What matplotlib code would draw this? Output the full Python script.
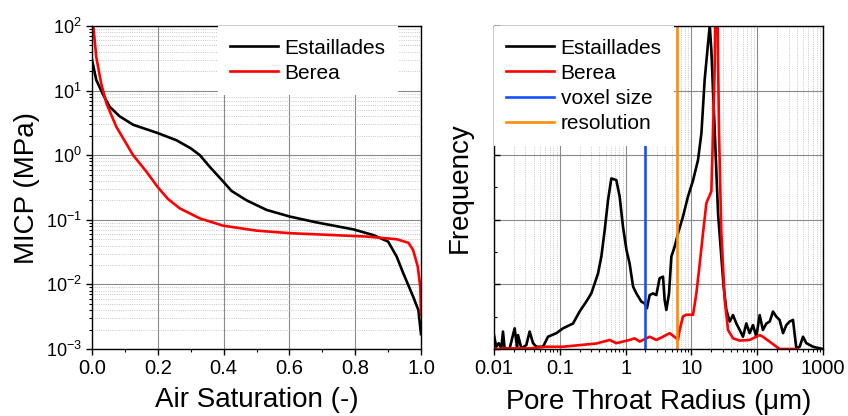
import numpy as np
import matplotlib
matplotlib.use("Agg")
import matplotlib.pyplot as plt
from matplotlib.ticker import LogLocator, MultipleLocator, FuncFormatter, NullFormatter, FixedLocator

plt.rcParams['font.family'] = ['Liberation Sans', 'DejaVu Sans']
plt.rcParams['mathtext.fontset'] = 'custom'
plt.rcParams['mathtext.rm'] = 'Liberation Sans'
plt.rcParams['mathtext.it'] = 'Liberation Sans:italic'

# ---------------- data: MICP curves ----------------
est_sat = [0.0, 0.013, 0.034, 0.054, 0.084, 0.125, 0.2, 0.257, 0.30, 0.328, 0.358,
           0.399, 0.424, 0.47, 0.531, 0.602, 0.683, 0.795, 0.855, 0.90, 0.926,
           0.946, 0.976, 0.992, 1.0]
est_micp = [30, 14.6, 8.6, 5.6, 4.0, 2.96, 2.2, 1.7, 1.28, 1.0, 0.66,
            0.39, 0.28, 0.2, 0.142, 0.112, 0.091, 0.071, 0.058, 0.046, 0.027,
            0.0149, 0.0065, 0.004, 0.0017]
ber_sat = [0.004, 0.013, 0.028, 0.044, 0.074, 0.125, 0.165, 0.2, 0.231, 0.267,
           0.328, 0.399, 0.5, 0.602, 0.734, 0.835, 0.926, 0.962, 0.976, 0.99,
           0.998, 1.0]
ber_micp = [100, 33, 12.9, 6.3, 2.75, 1.0, 0.56, 0.32, 0.21, 0.15,
            0.105, 0.081, 0.068, 0.062, 0.058, 0.055, 0.05, 0.044, 0.034, 0.019,
            0.009, 0.0034]

# ---------------- data: pore throat radius distributions ----------------
est_r = [0.0100, 0.0108, 0.0118, 0.0129, 0.0137, 0.0145, 0.0173, 0.0206, 0.0224,
         0.0232, 0.0260, 0.0310, 0.0348, 0.0392, 0.0440, 0.0556, 0.0662, 0.0886,
         0.112, 0.159, 0.200, 0.253, 0.301, 0.339, 0.381, 0.428, 0.481, 0.541,
         0.607, 0.723, 0.812, 0.912, 1.03, 1.15, 1.30, 1.46, 1.73, 1.95, 2.11,
         2.32, 2.61, 2.93, 3.29, 3.70, 3.92, 4.16, 4.57, 4.96, 5.57, 6.26, 7.45,
         8.87, 10.6, 12.6, 14.2, 15.9, 17.9, 19.0, 20.1, 22.6, 25.4, 28.5, 30.9,
         34.0, 38.2, 42.9, 48.2, 54.2, 60.8, 68.4, 76.8, 86.3, 97.0, 109, 122,
         138, 155, 174, 195, 219, 247, 277, 311, 350, 393, 442, 497, 558, 705,
         890, 1000]
est_f = [0.043, 0.007, 0.018, 0.002, 0.054, 0.002, 0.002, 0.064, 0.007,
         0.043, 0.002, 0.012, 0.054, 0.018, 0.007, 0.007, 0.038, 0.049,
         0.064, 0.079, 0.116, 0.147, 0.172, 0.203, 0.234, 0.286, 0.368, 0.461,
         0.528, 0.523, 0.472, 0.379, 0.307, 0.265, 0.193, 0.172, 0.147, 0.141, 0.126,
         0.167, 0.172, 0.167, 0.219, 0.224, 0.152, 0.121, 0.172, 0.286, 0.317, 0.358, 0.410,
         0.472, 0.522, 0.585, 0.668, 0.833, 0.946, 1.0, 0.926, 0.678, 0.420, 0.286, 0.193,
         0.121, 0.085, 0.105, 0.079, 0.059, 0.038, 0.079, 0.049, 0.074, 0.038, 0.105, 0.059,
         0.079, 0.085, 0.116, 0.100, 0.090, 0.049, 0.074, 0.085, 0.090, 0.002, 0.007,
         0.038, 0.018, 0.007, 0.002, 0.0]

ber_r = [0.01, 0.0195, 0.0348, 0.0624, 0.112, 0.200, 0.359, 0.573, 0.723, 1.15,
         1.37, 1.64, 2.32, 2.93, 3.70, 4.68, 5.91, 6.26, 6.63, 7.45, 8.37, 10.6,
         11.9, 13.4, 15.0, 16.9, 20.1, 21.3, 22.6, 23.4, 24.5, 26.3, 28.5, 32.1,
         36.0, 42.9, 54.2, 76.8, 109, 122, 219, 393]
ber_f = [0.0, 0.002, 0.002, 0.007, 0.007, 0.012, 0.017, 0.028, 0.018, 0.028,
         0.033, 0.023, 0.038, 0.028, 0.038, 0.049, 0.033, 0.028, 0.059, 0.101, 0.106, 0.106,
         0.172, 0.265, 0.358, 0.452, 0.488, 0.668, 0.874, 1.15, 1.15, 0.668, 0.358, 0.152,
         0.059, 0.033, 0.026, 0.028, 0.043, 0.038, 0.0, 0.0]

voxel_size = 2.0
resolution = 6.0

W, H = 848, 416
fig = plt.figure(figsize=(W / 100, H / 100), dpi=100)

ax1 = fig.add_axes([92 / W, (H - 349) / H, (421 - 92) / W, (349 - 26) / H])
ax2 = fig.add_axes([494 / W, (H - 349) / H, (823 - 494) / W, (349 - 26) / H])

major_grid = dict(color='#8a8a8a', linewidth=0.8, linestyle='-')
minor_grid = dict(color='#b5b5b5', linewidth=0.6, linestyle=':')

leg_kw = dict(fontsize=15, frameon=True, fancybox=False, framealpha=1,
              edgecolor='none', facecolor='white', handlelength=2.3,
              handletextpad=0.3, labelspacing=0.3, borderpad=0.6)

# ---------- left ----------
ax1.plot(est_sat, est_micp, color='black', lw=1.9, label='Estaillades')
ax1.plot(ber_sat, ber_micp, color='#ff0000', lw=1.9, label='Berea')
ax1.set_yscale('log')
ax1.set_xlim(0, 1)
ax1.set_ylim(1e-3, 1e2)
ax1.xaxis.set_major_locator(MultipleLocator(0.2))
ax1.xaxis.set_minor_locator(MultipleLocator(0.1))
ax1.xaxis.set_major_formatter(FuncFormatter(lambda v, p: f"{v:.1f}"))
ax1.yaxis.set_major_locator(LogLocator(base=10, numticks=10))
ax1.yaxis.set_minor_locator(LogLocator(base=10, subs=np.arange(2, 10), numticks=20))
ax1.yaxis.set_minor_formatter(NullFormatter())
ax1.grid(True, which='major', axis='both', **major_grid)
ax1.grid(True, which='minor', axis='y', **minor_grid)
ax1.set_axisbelow(True)
ax1.tick_params(which='major', direction='out', length=4, width=1)
ax1.tick_params(axis='x', which='major', labelsize=14.5)
ax1.tick_params(axis='y', which='major', labelsize=13)
ax1.tick_params(which='minor', direction='out', length=2.5, width=0.8)
ax1.set_xlabel('Air Saturation (-)', fontsize=20, labelpad=6)
ax1.set_ylabel('MICP (MPa)', fontsize=20, labelpad=4)
ax1.legend(loc='upper right', bbox_to_anchor=(0.93, 1.0), borderaxespad=0, **leg_kw)

# ---------- right ----------
ax2.plot(est_r, est_f, color='black', lw=1.9, label='Estaillades')
ax2.plot(ber_r, ber_f, color='#ff0000', lw=1.9, label='Berea')
ax2.axvline(voxel_size, color='#1450ff', lw=1.9, label='voxel size')
ax2.axvline(resolution, color='#ff8c00', lw=1.9, label='resolution')
ax2.set_xscale('log')
ax2.set_xlim(0.01, 1000)
ax2.set_ylim(0, 1.0)
ax2.xaxis.set_major_locator(FixedLocator([0.01, 0.1, 1, 10, 100, 1000]))
ax2.xaxis.set_major_formatter(FuncFormatter(lambda v, p: f"{v:g}"))
ax2.xaxis.set_minor_locator(LogLocator(base=10, subs=np.arange(2, 10), numticks=20))
ax2.xaxis.set_minor_formatter(NullFormatter())
ax2.yaxis.set_major_locator(MultipleLocator(0.2))
ax2.yaxis.set_minor_locator(MultipleLocator(0.1))
ax2.yaxis.set_major_formatter(NullFormatter())
ax2.grid(True, which='major', axis='both', **major_grid)
ax2.grid(True, which='minor', axis='x', **minor_grid)
ax2.set_axisbelow(True)
ax2.tick_params(axis='x', which='major', direction='out', length=4, width=1, labelsize=14.5)
ax2.tick_params(axis='x', which='minor', direction='out', length=2.5, width=0.8)
ax2.tick_params(axis='y', which='major', direction='in', length=4, width=1)
ax2.tick_params(axis='y', which='minor', direction='in', length=2.5, width=0.8)
ax2.set_xlabel(r'Pore Throat Radius ($\mathrm{\mu}$m)', fontsize=20, labelpad=6)
ax2.set_ylabel('Frequency', fontsize=20, labelpad=12)
ax2.legend(loc='upper left', borderaxespad=0, **leg_kw)

for ax in (ax1, ax2):
    for s in ax.spines.values():
        s.set_linewidth(1.0)
        s.set_color('black')

fig.savefig('out.png', dpi=100, facecolor='white')
